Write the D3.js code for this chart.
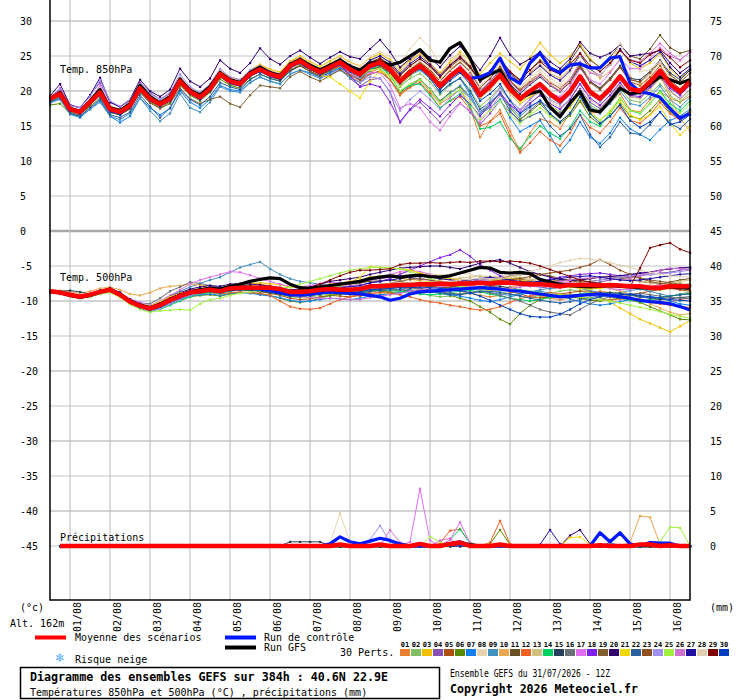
<!DOCTYPE html>
<html>
<head>
<meta charset="utf-8">
<script src="https://cdn.jsdelivr.net/npm/d3@7"></script>
<style>
body { margin: 0; background: #fff; }
text { font-family: "DejaVu Sans Mono", monospace; }
</style>
</head>
<body>
<svg id="chart" width="740" height="700"></svg>
<script>
// GEFS ensemble diagram, 31/07 12Z run, one value every 6h (65 steps, 384h)

var dateLabels = ["01/08","02/08","03/08","04/08","05/08","06/08","07/08","08/08",
                  "09/08","10/08","11/08","12/08","13/08","14/08","15/08","16/08"];
var dayIndex = [2,6,10,14,18,22,26,30,34,38,42,46,50,54,58,62];
var leftTicks = [30,25,20,15,10,5,0,-5,-10,-15,-20,-25,-30,-35,-40,-45];
var rightTicks = [75,70,65,60,55,50,45,40,35,30,25,20,15,10,5,0];
var memberNames = ["01","02","03","04","05","06","07","08","09","10","11","12","13","14","15",
                   "16","17","18","19","20","21","22","23","24","25","26","27","28","29","30"];
var memberColors = ["#e88030","#80c060","#f0c000","#8850b0","#b05010","#5a8a00","#1080f0","#e8d4b0",
                    "#4090c0","#e8a850","#6a5020","#f06020","#d0c080","#00d060","#24405a","#687078",
                    "#e070f0","#8020f0","#806030","#300070","#f0d800","#2860a0","#905020","#a090f0",
                    "#a0f040","#d070d0","#2010a0","#e0d0b0","#800000","#0040c0"];

// temperature 850 hPa (°C)
var mean850 = [18.9,19.6,17.4,17.0,18.4,19.8,17.4,17.0,17.9,20.4,18.9,18.1,18.9,
  21.4,19.9,19.1,20.3,22.4,21.4,21.0,22.4,23.1,22.4,22.0,23.6,24.3,
  23.4,22.7,23.4,24.1,23.1,22.4,23.6,24.1,23.1,21.4,22.7,23.6,22.4,
  20.7,22.1,23.2,21.7,19.4,20.7,22.3,20.3,18.9,20.0,21.0,19.6,18.6,
  19.9,22.1,19.9,18.9,20.3,22.1,20.3,20.0,21.3,22.9,21.0,19.9,21.3];
var ctrl850 = [18.9,19.6,17.3,17.0,18.3,19.6,17.2,16.9,17.8,20.3,18.8,18.0,18.8,
  21.3,19.8,19.0,20.2,22.3,21.3,20.9,22.3,23.0,22.3,21.9,23.5,24.2,
  23.3,22.6,23.3,24.0,23.0,22.3,23.5,24.0,23.0,21.3,22.6,23.5,22.3,
  20.6,22.0,23.0,21.8,22.0,22.6,24.7,21.9,21.1,24.0,25.4,23.3,22.6,
  23.7,23.9,23.3,23.3,24.7,24.9,21.1,19.9,19.6,19.1,17.5,16.1,16.8];
var gfs850 = [18.8,19.8,17.5,17.1,18.6,20.2,17.6,17.2,18.2,20.8,19.2,18.3,19.2,
  21.7,20.1,19.4,20.6,22.6,21.6,21.2,22.6,23.4,22.6,22.2,23.8,24.5,
  23.7,23.0,23.7,24.4,23.5,23.0,24.0,24.2,23.7,24.1,25.0,25.9,24.4,
  24.1,26.1,26.9,24.7,21.6,22.4,23.0,20.6,19.0,19.6,20.0,17.7,16.3,
  18.3,19.9,17.3,17.0,18.6,20.4,19.6,19.8,21.0,22.0,21.6,21.1,21.6];
var pert850 = [
 [19.2,20.1,17.4,16.8,18.7,20.3,17.6,17.0,17.6,20.0,18.7,18.1,19.2,21.8,20.4,19.4,20.3,22.1,20.9,20.7,22.4,23.5,22.9,22.3,23.6,23.9,22.8,21.9,22.9,23.5,22.1,21.2,22.6,23.3,21.6,19.4,20.5,21.6,19.9,18.2,19.1,20.2,17.7,13.4,15.7,17.3,14.3,11.4,14.0,16.0,15.6,14.6,16.9,18.6,16.9,16.9,18.3,19.6,17.3,17.0,18.8,19.9,19.0,18.4,19.3],
 [18.7,19.3,17.2,16.9,18.2,19.5,17.3,16.8,17.7,20.1,18.7,17.9,18.6,21.0,19.6,18.9,20.1,22.0,21.1,20.8,22.1,22.8,22.0,21.6,23.0,23.8,23.0,22.4,23.0,23.8,22.8,22.0,23.0,23.6,22.4,20.6,21.8,22.5,21.3,19.5,20.8,21.9,20.2,17.8,19.0,20.6,18.8,17.2,18.3,19.4,18.0,17.0,18.1,20.1,18.0,17.2,18.6,20.4,18.7,18.4,19.6,21.0,19.4,18.4,19.8],
 [19.0,19.8,17.6,17.3,18.6,20.1,17.7,17.2,18.1,20.7,19.1,18.4,19.2,21.8,20.3,19.6,20.8,22.9,22.0,21.6,23.0,23.8,23.1,22.7,24.3,25.0,24.2,23.5,24.3,25.0,24.1,23.6,24.7,25.3,24.5,23.2,24.4,25.3,24.0,22.6,24.2,25.6,24.3,22.4,24.0,25.4,24.2,23.1,24.8,26.9,25.2,24.0,25.0,26.7,24.6,23.3,24.4,26.0,24.0,23.2,24.0,25.4,23.2,21.8,23.0],
 [18.9,20.4,18.0,17.6,19.4,21.2,18.4,17.8,18.6,21.2,19.8,18.8,19.6,21.9,20.3,19.6,20.8,22.8,21.8,21.4,22.6,23.2,22.4,22.0,23.6,24.0,22.7,22.0,22.6,23.2,21.8,20.7,21.6,21.8,19.9,15.5,17.3,18.4,17.0,15.5,17.0,18.3,17.0,15.2,16.8,18.6,17.0,15.8,17.2,18.5,17.5,16.8,18.0,20.3,18.4,17.5,19.0,20.8,19.2,19.0,20.4,22.0,20.0,18.9,20.2],
 [18.8,19.6,17.5,17.2,18.5,19.9,17.6,17.2,18.0,20.4,18.8,18.0,18.7,21.2,19.7,18.9,20.1,22.3,21.3,20.9,22.2,22.9,22.3,21.9,23.4,24.0,23.1,22.3,23.0,23.6,22.6,22.0,23.4,24.0,23.0,21.5,23.0,24.0,23.0,21.4,23.0,24.2,22.8,20.5,21.8,23.5,21.5,20.2,21.4,22.6,21.2,20.4,21.6,23.8,21.4,20.3,21.6,23.4,21.3,20.8,22.0,23.6,21.6,20.3,21.6],
 [18.0,18.2,16.8,16.6,17.8,19.0,16.9,16.6,17.5,19.8,18.4,17.6,18.4,20.8,19.4,18.6,19.8,21.7,20.8,20.4,21.7,22.4,21.8,21.4,22.9,23.6,22.8,22.2,22.9,23.5,22.4,21.6,22.5,22.8,21.6,19.8,21.0,21.7,20.3,18.6,19.8,20.6,19.0,16.8,18.0,19.7,17.6,16.0,17.0,18.2,16.6,15.4,16.5,18.5,16.3,15.2,16.4,18.2,16.4,16.0,17.2,18.8,17.0,16.0,17.2],
 [18.5,19.0,16.7,16.2,17.4,18.6,16.4,15.5,16.4,19.0,17.6,16.6,17.5,20.0,18.4,17.6,18.8,20.8,20.2,20.0,21.2,22.0,21.4,21.0,22.4,23.0,22.6,22.0,22.7,23.3,22.4,21.8,23.0,23.5,22.6,20.8,22.2,23.0,21.8,19.8,21.0,21.8,19.6,16.8,17.6,18.8,16.2,14.2,15.0,15.8,13.6,11.3,13.0,15.6,13.4,12.5,14.0,16.2,14.6,13.8,13.0,14.5,15.8,16.4,17.4],
 [19.1,19.9,17.6,17.2,18.6,20.1,17.7,17.3,18.2,20.8,19.2,18.4,19.2,21.7,20.2,19.4,20.6,22.7,21.8,21.4,22.8,23.5,22.8,22.5,24.1,24.8,24.0,23.3,24.0,24.8,24.0,23.5,24.9,25.6,25.0,24.0,26.0,27.6,26.2,23.8,24.6,25.3,23.8,21.4,22.5,24.0,22.0,20.6,21.6,22.6,21.4,20.6,21.9,24.0,21.8,20.6,21.9,23.6,21.6,21.2,22.4,24.0,22.4,21.2,22.6],
 [18.3,18.8,16.7,16.4,17.4,18.4,16.4,15.9,16.8,19.0,17.2,15.7,16.8,19.6,17.6,17.0,18.4,20.6,20.0,19.8,21.2,22.0,21.4,21.0,22.4,23.0,22.4,21.8,22.4,23.0,21.9,21.2,22.4,22.8,21.6,19.6,20.8,21.6,20.3,18.5,19.7,20.8,19.2,16.9,18.2,19.8,17.8,16.4,17.6,18.7,17.4,16.5,17.9,20.0,17.8,16.8,18.2,20.0,18.2,17.9,19.1,20.7,18.8,17.7,19.1],
 [19.2,20.0,17.7,17.3,18.7,20.2,17.8,17.4,18.3,20.8,19.3,18.5,19.3,21.8,20.3,19.5,20.7,22.9,22.0,21.6,22.9,23.6,22.9,22.5,24.1,24.8,23.9,23.2,23.9,24.6,23.7,23.1,24.4,25.0,24.2,22.8,24.2,25.2,24.0,22.4,23.9,25.1,23.6,21.4,22.7,24.4,22.6,21.3,22.6,23.8,22.5,21.8,23.2,25.4,23.1,21.8,22.8,24.4,22.1,21.0,21.6,22.6,19.0,16.2,14.2],
 [18.9,19.8,17.6,17.2,18.5,20.0,17.6,17.2,18.1,20.6,19.0,18.3,19.1,21.6,20.1,19.3,20.5,22.6,21.6,21.2,22.6,23.4,22.7,22.3,23.9,24.6,23.7,23.0,23.7,24.4,23.5,22.9,24.1,24.7,23.8,22.3,23.6,24.6,23.5,22.0,23.4,24.6,23.3,21.3,22.7,24.4,22.6,21.5,23.0,24.4,23.4,22.8,24.2,26.4,24.4,23.4,24.8,26.6,25.0,24.6,26.0,28.0,26.2,25.4,25.8],
 [18.8,19.5,17.3,16.9,18.3,19.7,17.3,16.9,17.8,20.3,18.8,18.0,18.8,21.3,19.8,19.0,20.2,22.3,21.3,20.9,22.3,23.0,22.3,21.9,23.5,24.2,23.2,22.4,23.0,23.6,22.4,21.5,22.5,22.8,21.6,19.6,20.6,21.2,19.6,17.6,18.6,19.2,17.4,15.0,15.6,16.8,13.6,11.2,12.6,14.2,13.0,12.2,14.0,16.6,14.8,14.0,15.6,17.6,15.8,15.4,16.6,18.4,16.8,15.8,17.0],
 [19.0,19.7,17.5,17.1,18.5,19.9,17.5,17.1,18.0,20.5,19.0,18.2,19.0,21.5,20.0,19.2,20.4,22.5,21.5,21.1,22.5,23.2,22.5,22.1,23.7,24.4,23.5,22.8,23.5,24.2,23.2,22.5,23.7,24.2,23.2,21.6,22.9,23.8,22.6,20.8,22.0,23.0,21.4,19.0,20.2,21.7,19.6,18.1,19.1,20.1,18.6,17.6,18.8,21.0,18.8,17.8,19.2,21.0,19.2,18.9,20.2,21.8,19.9,18.8,20.2],
 [18.7,19.4,17.2,16.8,18.2,19.6,17.2,16.8,17.7,20.2,18.7,17.9,18.7,21.2,19.7,18.9,20.1,22.2,21.2,20.8,22.2,22.9,22.2,21.8,23.4,24.1,23.2,22.5,23.2,23.9,22.9,22.2,23.2,23.5,22.2,20.0,20.8,21.0,19.4,17.6,18.6,19.6,17.8,14.6,14.8,15.6,13.2,11.8,13.5,15.0,14.0,13.2,14.8,17.2,15.6,15.0,16.8,19.0,17.2,16.8,18.2,20.0,18.2,17.2,18.6],
 [18.8,19.5,17.3,16.9,18.3,19.6,17.2,16.8,17.7,20.2,18.7,17.9,18.7,21.2,19.7,18.9,20.1,22.2,21.2,20.8,22.2,22.9,22.2,21.8,23.4,24.2,23.3,22.6,23.3,24.0,23.0,22.3,23.5,24.0,23.0,21.3,22.6,23.6,22.5,20.9,22.3,23.5,22.1,19.9,21.3,23.0,21.0,19.6,20.9,22.0,20.8,19.9,21.3,23.6,21.4,20.4,21.8,23.6,21.8,21.6,22.8,24.4,22.6,21.6,23.0],
 [18.9,19.6,17.4,17.0,18.4,19.7,17.3,16.9,17.8,20.3,18.8,18.0,18.8,21.2,19.7,18.9,20.1,22.1,21.1,20.7,22.1,22.8,22.1,21.7,23.3,24.0,23.1,22.4,23.1,23.8,22.8,22.1,23.3,23.7,22.7,21.0,22.3,23.2,22.0,20.3,21.7,22.8,21.3,19.0,20.3,21.9,19.9,18.5,19.6,20.6,19.2,18.2,19.5,21.7,19.5,18.5,19.9,21.7,19.9,19.6,20.9,22.5,20.6,19.5,20.9],
 [18.8,20.4,17.6,17.2,18.6,20.8,17.6,17.1,18.2,21.0,19.2,18.2,19.1,21.6,19.8,19.0,20.2,22.3,21.3,20.9,22.3,23.0,22.3,21.9,23.5,24.2,23.3,22.6,23.2,23.8,22.6,21.7,22.6,22.6,20.8,17.6,18.2,17.6,15.6,14.4,16.4,18.2,17.2,15.6,17.4,19.4,18.0,17.2,18.8,20.4,19.6,19.2,20.8,23.2,21.6,21.0,22.6,24.6,23.2,23.2,24.6,26.2,25.0,24.4,25.6],
 [18.9,19.7,17.5,17.1,18.5,19.9,17.5,17.1,18.0,20.5,19.0,18.2,19.0,21.5,20.0,19.2,20.4,22.5,21.5,21.1,22.5,23.2,22.5,22.1,23.7,24.4,23.4,22.6,23.2,23.8,22.2,20.6,21.0,20.6,18.4,15.6,17.4,18.8,17.6,16.4,18.0,19.4,18.2,16.4,18.0,19.8,18.0,16.8,18.2,19.4,18.2,17.4,18.8,21.0,19.0,18.0,19.4,21.2,19.4,19.2,20.6,22.2,20.4,19.4,20.8],
 [18.6,19.2,17.0,16.6,18.0,19.4,17.0,16.6,17.4,19.8,18.3,17.5,18.2,20.4,18.9,18.2,18.8,19.2,18.2,17.7,19.4,20.8,20.6,20.4,22.0,22.8,22.0,21.4,22.2,23.0,22.2,21.6,22.9,23.5,22.6,21.0,22.4,23.3,22.2,20.5,21.9,23.0,21.5,19.2,20.5,22.1,20.1,18.7,19.8,20.8,19.4,18.4,19.7,21.9,19.7,18.7,20.1,21.9,20.1,19.8,21.1,22.7,20.8,19.7,21.1],
 [19.3,21.0,18.0,17.6,19.4,21.9,18.4,17.7,18.8,21.6,20.0,19.2,20.2,23.2,21.4,20.6,21.8,24.4,23.2,22.6,24.0,26.1,24.6,23.8,25.0,25.8,24.8,23.9,24.8,25.6,24.9,24.6,26.0,27.3,25.6,23.4,24.6,25.7,24.8,23.4,25.1,26.4,24.8,23.0,25.0,27.6,25.2,23.8,24.6,25.6,24.2,23.2,24.6,27.0,25.4,24.8,25.4,26.6,25.0,25.2,25.4,25.8,24.0,22.6,23.6],
 [18.9,19.6,17.4,17.0,18.4,19.8,17.4,17.0,17.9,20.4,18.9,18.1,18.9,21.4,19.9,19.1,20.3,22.4,21.4,21.0,22.4,23.1,22.4,22.0,23.6,24.3,23.2,22.2,22.0,21.0,20.0,19.0,21.4,22.8,22.2,20.8,22.2,23.2,22.0,20.4,21.8,22.9,21.4,19.1,20.4,22.0,20.0,18.4,19.2,19.8,18.0,16.6,17.6,19.6,17.0,15.8,17.0,18.6,16.6,15.9,16.6,17.8,15.4,13.7,15.0],
 [18.4,19.0,16.8,16.4,17.6,18.8,16.6,16.2,17.0,19.4,17.8,16.2,17.6,20.2,18.8,18.0,19.2,21.2,20.6,20.2,21.6,22.4,21.8,21.4,22.8,23.6,23.2,22.5,23.2,23.9,22.9,22.2,23.4,23.9,22.9,21.2,22.4,23.2,21.8,19.8,21.0,21.8,20.0,17.4,18.4,19.6,17.2,15.6,16.4,17.0,15.0,13.6,14.6,16.6,13.8,12.0,13.4,15.6,14.0,13.8,15.2,17.0,15.4,14.6,16.0],
 [19.0,19.8,17.5,17.1,18.5,19.9,17.5,17.1,18.0,20.5,19.0,18.2,19.0,21.4,19.9,19.1,20.3,22.3,21.3,20.9,22.2,22.8,22.1,21.6,23.0,23.6,22.8,22.2,23.0,23.8,22.9,22.3,23.6,24.2,23.3,21.7,23.1,24.1,23.0,21.4,22.9,24.1,22.7,20.4,21.8,23.4,21.4,20.0,21.2,22.3,20.9,20.0,21.2,23.4,21.2,20.2,21.6,23.4,21.6,21.3,22.6,24.2,22.3,21.2,22.6],
 [19.1,20.2,17.9,17.6,19.2,21.6,18.6,17.8,18.8,21.0,19.6,18.8,19.8,22.4,20.6,19.8,21.0,23.2,22.0,21.6,23.0,23.6,22.8,22.4,24.0,24.6,23.5,22.8,23.4,24.0,22.6,21.2,22.0,21.8,19.8,17.2,18.8,20.0,18.8,17.4,19.0,20.2,19.0,17.0,18.6,20.4,18.6,17.4,18.8,20.0,18.8,18.0,19.4,21.6,19.6,18.6,20.0,21.8,20.0,19.8,21.2,22.8,21.0,20.0,21.4],
 [18.9,19.6,17.4,17.0,18.4,19.8,17.4,17.0,17.9,20.4,18.9,18.1,18.9,21.4,19.9,19.1,20.3,22.4,21.4,21.0,22.4,23.1,22.4,22.0,23.6,24.3,23.4,22.7,23.3,23.9,22.8,22.0,23.0,23.2,22.0,20.0,21.0,21.6,20.2,18.4,19.4,20.2,18.4,16.0,17.2,18.6,16.6,15.4,16.6,17.6,16.4,15.6,16.8,19.0,16.8,15.8,17.2,19.0,17.2,16.9,18.2,19.8,17.9,16.8,18.2],
 [18.9,19.6,17.4,17.0,18.4,19.8,17.4,17.0,17.9,20.4,18.9,18.1,18.9,21.4,19.9,19.1,20.3,22.4,21.4,21.0,22.4,23.1,22.4,22.0,23.6,24.3,23.4,22.7,23.4,24.1,23.1,22.4,23.6,24.1,23.1,21.4,22.7,23.6,22.4,20.9,22.4,23.6,22.2,20.0,21.4,23.1,21.2,19.9,21.1,22.2,20.9,20.0,21.6,24.2,22.6,22.2,23.8,25.8,24.4,24.2,25.4,26.8,25.4,24.4,25.6],
 [19.0,19.7,17.5,17.1,18.5,20.0,17.6,17.2,18.1,20.6,19.1,18.3,19.1,21.6,20.1,19.3,20.5,22.6,21.6,21.2,22.6,23.4,22.7,22.3,23.9,24.6,23.7,23.0,23.8,24.6,23.7,23.1,24.4,25.0,24.1,22.5,23.9,24.9,23.8,22.2,23.7,24.9,23.5,21.4,22.8,24.5,22.5,21.1,22.4,23.6,22.3,21.5,22.9,25.2,23.1,22.2,23.8,26.0,24.2,23.6,24.4,25.6,23.4,22.0,23.2],
 [18.8,19.5,17.4,17.1,18.5,19.9,17.5,17.1,18.0,20.5,19.0,18.1,18.9,21.4,19.9,19.1,20.3,22.4,21.4,21.0,22.4,23.1,22.4,22.0,23.6,24.3,23.4,22.7,23.4,24.1,23.2,22.6,23.8,24.4,23.5,21.9,23.3,24.3,23.2,21.6,23.1,24.3,22.9,20.7,22.1,23.8,21.9,20.6,21.9,23.1,21.8,21.0,22.6,25.0,23.0,22.2,23.8,26.8,24.4,22.8,23.0,24.2,22.0,20.8,22.0],
 [19.1,19.9,17.6,17.2,18.6,20.1,17.7,17.3,18.2,20.7,19.2,18.4,19.2,21.7,20.2,19.4,20.6,22.7,21.7,21.3,22.7,23.4,22.7,22.3,23.9,24.6,23.7,23.0,23.7,24.4,23.4,22.8,24.0,24.6,23.7,22.2,23.6,24.6,23.6,22.0,23.6,24.8,23.5,21.5,22.9,24.6,22.8,21.6,23.0,24.2,23.0,22.4,23.8,25.4,23.6,22.8,24.0,25.8,24.4,24.0,25.2,25.9,24.8,23.4,24.4],
 [18.8,19.4,17.2,16.8,18.2,19.6,17.1,16.6,17.6,20.1,18.6,17.8,18.6,21.1,19.6,18.8,20.0,22.1,21.1,20.7,22.1,22.8,22.1,21.7,23.3,24.0,23.1,22.4,23.1,23.8,22.8,22.1,23.3,23.8,22.8,21.1,22.4,23.3,22.1,20.2,21.5,22.6,21.0,18.6,19.6,21.0,18.6,16.8,17.8,18.6,16.8,15.6,16.8,19.2,16.8,15.4,16.4,18.0,15.8,14.8,15.6,17.0,15.2,15.6,16.6]
];

// temperature 500 hPa (°C)
var mean500 = [-8.6,-8.8,-9.1,-9.4,-9.1,-8.7,-8.4,-9.1,-10.1,-10.7,-11.1,-10.6,-9.9,
  -9.3,-8.8,-8.6,-8.4,-8.6,-8.2,-8.1,-8.1,-8.1,-8.1,-8.3,-8.7,-8.7,
  -8.6,-8.4,-8.3,-8.4,-8.4,-8.3,-7.9,-7.9,-7.8,-7.7,-7.7,-7.6,-7.6,
  -7.5,-7.6,-7.5,-7.5,-7.4,-7.5,-7.4,-7.4,-7.5,-7.6,-7.6,-7.7,-7.9,
  -7.7,-7.7,-7.7,-7.8,-7.7,-7.8,-7.9,-7.9,-8.1,-8.1,-7.9,-7.9,-7.9];
var ctrl500 = [-8.6,-8.8,-9.1,-9.4,-9.1,-8.7,-8.4,-9.1,-10.1,-10.7,-11.1,-10.6,-9.9,
  -9.3,-8.8,-8.6,-8.4,-8.6,-8.3,-8.2,-8.2,-8.3,-8.5,-8.8,-9.1,-9.1,
  -9.0,-8.8,-8.7,-8.8,-8.9,-9.0,-9.2,-9.4,-9.9,-9.6,-9.0,-8.7,-8.6,
  -8.5,-8.4,-8.3,-8.2,-8.1,-8.2,-8.3,-8.5,-8.6,-8.8,-9.0,-9.2,-9.4,
  -9.3,-9.2,-9.1,-9.0,-9.2,-9.4,-9.6,-9.9,-10.1,-10.2,-10.4,-10.8,-11.3];
var gfs500 = [-8.6,-8.8,-9.2,-9.5,-9.2,-8.7,-8.3,-9.0,-10.0,-10.6,-11.0,-10.5,-9.8,
  -9.2,-8.7,-8.4,-8.2,-8.3,-7.9,-7.6,-7.2,-6.9,-6.7,-6.8,-7.6,-8.1,
  -8.2,-8.0,-7.8,-7.6,-7.4,-7.2,-6.8,-6.6,-6.4,-6.6,-6.4,-6.3,-6.5,
  -6.6,-6.4,-6.0,-5.6,-5.2,-5.3,-5.9,-6.0,-5.9,-6.1,-6.9,-7.3,-7.6,
  -7.8,-7.9,-8.0,-7.9,-7.8,-7.9,-8.0,-8.1,-8.2,-8.1,-8.0,-8.1,-8.2];
var pert500 = [
 [-8.5,-8.7,-9.0,-9.2,-8.9,-8.5,-8.3,-8.9,-9.8,-10.4,-10.9,-10.4,-9.6,-9.0,-8.6,-8.4,-8.2,-8.3,-7.9,-7.6,-7.4,-7.6,-7.8,-8.2,-8.6,-8.8,-8.8,-8.7,-8.6,-8.9,-9.1,-9.3,-9.0,-8.8,-8.6,-8.4,-8.2,-8.0,-7.9,-7.8,-8.2,-8.6,-8.9,-9.2,-9.4,-9.2,-8.8,-8.6,-8.9,-9.3,-9.6,-9.8,-9.6,-9.2,-8.9,-8.6,-8.8,-9.2,-9.6,-9.9,-10.2,-10.4,-10.1,-9.8,-9.6],
 [-8.7,-8.9,-9.2,-9.5,-9.3,-8.9,-8.6,-9.2,-10.2,-10.9,-11.3,-10.9,-10.2,-9.6,-9.1,-8.9,-8.7,-8.8,-8.5,-8.4,-8.5,-8.7,-8.9,-9.1,-9.4,-9.5,-9.4,-9.2,-9.0,-9.1,-9.0,-8.8,-8.5,-8.3,-8.2,-8.4,-8.6,-8.9,-9.2,-9.4,-9.3,-9.1,-8.8,-8.6,-8.5,-8.7,-9.0,-9.3,-9.5,-9.2,-8.9,-8.6,-8.4,-8.6,-8.9,-9.1,-9.4,-9.7,-9.9,-10.2,-10.0,-9.6,-9.3,-9.0,-8.7],
 [-8.6,-8.8,-9.1,-9.3,-9.0,-8.6,-8.3,-9.0,-9.9,-10.5,-10.8,-10.3,-9.6,-9.0,-8.5,-8.2,-8.0,-8.1,-7.8,-7.6,-7.5,-7.4,-7.5,-7.7,-8.0,-8.1,-8.0,-7.8,-7.6,-7.4,-7.2,-7.0,-6.6,-6.4,-6.6,-6.8,-6.9,-7.1,-7.3,-7.0,-6.8,-6.9,-7.2,-7.4,-7.3,-7.0,-6.8,-6.9,-7.3,-7.6,-7.4,-7.2,-7.6,-8.0,-8.6,-9.4,-10.2,-11.0,-11.8,-12.6,-13.2,-13.8,-14.4,-13.6,-12.8],
 [-8.6,-8.9,-9.2,-9.5,-9.2,-8.8,-8.5,-9.2,-10.3,-11.0,-11.5,-11.0,-10.3,-9.7,-9.1,-8.9,-8.7,-8.9,-8.6,-8.4,-8.3,-8.2,-8.1,-8.4,-8.8,-8.9,-8.7,-8.4,-8.1,-8.0,-7.8,-7.5,-7.0,-6.8,-6.6,-6.5,-6.7,-6.9,-7.0,-7.2,-7.3,-7.4,-7.2,-7.0,-6.9,-7.1,-7.3,-7.6,-7.8,-8.0,-8.2,-8.1,-7.9,-7.7,-7.5,-7.3,-7.0,-6.8,-6.6,-6.4,-6.2,-6.0,-5.9,-5.6,-5.4],
 [-8.6,-8.8,-9.2,-9.4,-9.2,-8.8,-8.5,-9.2,-10.1,-10.8,-11.2,-10.6,-9.8,-9.1,-8.6,-8.5,-8.4,-8.7,-8.4,-8.3,-8.4,-8.6,-8.9,-9.2,-9.6,-9.8,-9.7,-9.4,-9.2,-9.3,-9.4,-9.2,-8.7,-8.4,-8.2,-8.0,-7.8,-7.8,-7.9,-8.0,-8.2,-8.0,-7.8,-7.6,-7.8,-8.2,-8.6,-9.0,-9.4,-9.6,-9.3,-9.0,-8.8,-8.6,-8.6,-8.9,-9.2,-9.4,-9.2,-8.9,-8.6,-8.4,-8.2,-8.4,-8.6],
 [-8.7,-8.9,-9.2,-9.5,-9.3,-8.9,-8.6,-9.3,-10.2,-10.9,-11.3,-11.0,-10.4,-9.9,-9.4,-9.2,-9.1,-9.3,-9.0,-8.8,-8.8,-9.0,-9.2,-9.6,-10.0,-10.2,-10.0,-9.6,-9.2,-9.0,-8.8,-8.6,-8.4,-8.6,-8.8,-8.7,-8.5,-8.4,-8.6,-8.9,-9.2,-9.6,-10.0,-10.8,-11.6,-12.6,-13.3,-11.8,-10.6,-9.8,-9.4,-9.2,-9.4,-9.6,-9.9,-10.0,-9.8,-9.6,-9.8,-10.2,-10.8,-11.4,-12.0,-12.6,-12.7],
 [-8.8,-9.0,-9.3,-9.6,-9.4,-9.0,-8.7,-9.3,-10.3,-11.0,-11.4,-11.0,-10.4,-9.8,-9.3,-9.1,-9.0,-9.2,-8.9,-8.8,-8.9,-9.1,-9.3,-9.5,-9.9,-10.1,-10.0,-9.8,-9.6,-9.7,-9.8,-9.6,-9.3,-9.1,-9.0,-8.8,-8.6,-8.5,-8.7,-8.9,-9.1,-9.3,-9.6,-9.9,-10.1,-9.8,-9.4,-9.1,-8.8,-8.6,-8.9,-9.3,-9.7,-10.1,-10.4,-10.6,-10.4,-10.1,-9.8,-9.5,-9.3,-9.6,-10.0,-10.4,-10.6],
 [-8.5,-8.7,-9.0,-9.3,-9.0,-8.6,-8.3,-8.9,-9.9,-10.5,-10.9,-10.4,-9.7,-9.1,-8.6,-8.3,-8.1,-8.2,-7.8,-7.7,-7.8,-7.9,-8.0,-8.1,-8.4,-8.4,-8.3,-8.1,-8.0,-7.9,-7.7,-7.5,-7.0,-6.6,-6.3,-6.0,-5.8,-5.9,-6.1,-6.3,-6.2,-6.0,-6.2,-6.5,-6.8,-6.6,-6.4,-6.6,-6.9,-7.2,-7.4,-7.6,-7.5,-7.3,-7.5,-7.8,-8.1,-8.4,-8.2,-7.9,-7.6,-7.4,-7.2,-7.4,-7.5],
 [-8.5,-8.7,-9.0,-9.3,-9.0,-8.6,-8.3,-9.0,-10.0,-10.5,-10.8,-10.2,-9.3,-8.6,-8.0,-7.5,-7.0,-6.6,-5.9,-5.2,-4.8,-4.4,-5.4,-6.2,-6.8,-7.2,-7.4,-7.6,-7.8,-8.0,-8.3,-8.4,-8.2,-8.0,-7.9,-8.1,-8.4,-8.6,-8.5,-8.3,-8.1,-8.0,-8.2,-8.5,-8.8,-9.0,-9.2,-9.0,-8.7,-8.4,-8.2,-8.0,-7.9,-8.2,-8.5,-8.8,-9.0,-8.8,-8.5,-8.3,-8.6,-9.0,-9.3,-9.1,-8.9],
 [-8.4,-8.5,-8.7,-8.9,-8.6,-8.2,-8.0,-8.4,-9.0,-9.2,-8.8,-8.2,-7.9,-7.8,-7.6,-7.7,-7.9,-8.2,-8.0,-7.9,-7.8,-7.9,-8.1,-8.4,-8.8,-9.0,-9.1,-8.9,-8.7,-8.6,-8.5,-8.6,-8.4,-8.1,-7.9,-7.6,-7.4,-7.3,-7.4,-7.6,-7.8,-7.9,-8.1,-8.3,-8.4,-8.2,-8.0,-7.8,-7.6,-7.4,-7.2,-7.0,-6.9,-7.1,-7.4,-7.8,-8.2,-8.6,-9.0,-9.6,-10.4,-11.0,-11.6,-12.0,-11.8],
 [-8.6,-8.8,-9.1,-9.4,-9.1,-8.7,-8.4,-9.0,-10.0,-10.6,-10.9,-10.5,-9.8,-9.2,-8.7,-8.4,-8.1,-8.2,-7.9,-7.8,-7.9,-8.0,-8.2,-8.4,-8.7,-8.6,-8.4,-8.1,-7.8,-7.7,-7.5,-7.4,-7.2,-7.1,-7.0,-7.2,-7.5,-7.7,-7.9,-8.1,-8.0,-7.8,-7.6,-7.4,-7.2,-7.0,-6.8,-6.9,-7.1,-7.3,-7.2,-7.1,-7.0,-6.9,-6.8,-6.6,-6.5,-6.7,-6.9,-7.2,-7.4,-7.6,-7.3,-7.0,-6.8],
 [-8.7,-8.9,-9.2,-9.5,-9.2,-8.8,-8.6,-9.3,-10.4,-11.0,-11.3,-10.6,-9.9,-9.4,-9.0,-8.9,-8.8,-9.0,-8.8,-8.7,-8.8,-8.9,-9.2,-10.0,-10.8,-11.1,-11.2,-11.0,-10.4,-9.8,-9.4,-9.1,-8.9,-8.8,-8.9,-9.1,-9.4,-9.8,-10.1,-10.3,-10.6,-10.8,-11.1,-11.3,-11.2,-10.8,-10.2,-9.7,-9.3,-9.0,-8.8,-9.0,-9.2,-9.4,-9.6,-9.8,-9.9,-9.7,-9.5,-9.8,-10.1,-10.4,-10.6,-10.8,-10.9],
 [-8.6,-8.8,-9.1,-9.4,-9.1,-8.7,-8.4,-9.1,-10.1,-10.7,-11.0,-10.5,-9.8,-9.2,-8.7,-8.5,-8.3,-8.5,-8.1,-8.0,-8.0,-8.0,-8.0,-8.2,-8.6,-8.6,-8.5,-8.3,-8.2,-8.3,-8.3,-8.2,-7.8,-7.8,-7.7,-7.6,-7.6,-7.5,-7.5,-6.8,-6.9,-6.7,-6.6,-6.4,-6.5,-6.4,-6.5,-6.7,-6.9,-7.0,-7.2,-7.4,-7.2,-7.0,-6.8,-6.6,-6.4,-6.6,-6.9,-7.1,-7.4,-7.6,-7.4,-7.2,-7.0],
 [-8.7,-8.9,-9.2,-9.5,-9.2,-8.8,-8.5,-9.2,-10.2,-10.9,-11.4,-11.2,-10.6,-10.0,-9.4,-9.0,-8.8,-8.9,-8.6,-8.4,-8.4,-8.5,-8.7,-9.0,-9.3,-9.4,-9.2,-9.0,-8.8,-8.9,-9.0,-8.9,-8.6,-8.5,-8.5,-8.6,-8.8,-9.0,-9.1,-9.0,-8.8,-8.6,-8.5,-8.7,-9.0,-9.3,-9.6,-9.8,-10.0,-9.8,-9.5,-9.3,-9.2,-9.0,-8.9,-9.0,-9.2,-9.5,-9.8,-10.0,-9.8,-9.5,-9.3,-9.1,-9.0],
 [-8.5,-8.6,-8.5,-8.7,-9.0,-8.8,-8.5,-9.0,-9.9,-10.5,-10.9,-10.5,-9.9,-9.4,-9.0,-8.8,-8.6,-8.8,-8.5,-8.4,-8.5,-8.6,-8.8,-9.0,-9.3,-9.4,-9.2,-9.0,-8.7,-8.5,-8.3,-8.0,-7.7,-7.6,-7.5,-7.6,-7.9,-8.2,-8.4,-8.6,-8.5,-8.4,-8.2,-8.0,-7.8,-7.9,-8.1,-8.4,-8.7,-9.0,-9.2,-9.4,-9.5,-9.3,-9.1,-8.9,-8.8,-8.9,-9.1,-9.3,-9.6,-9.8,-9.7,-9.5,-9.4],
 [-8.5,-8.7,-9.0,-9.3,-9.0,-8.6,-8.3,-8.9,-9.8,-10.3,-10.4,-9.6,-8.6,-8.0,-7.3,-7.5,-7.8,-8.1,-7.9,-7.8,-7.9,-8.1,-8.3,-8.6,-8.9,-9.0,-8.9,-8.7,-8.5,-8.5,-8.6,-8.6,-8.3,-8.2,-8.1,-8.0,-8.1,-8.3,-8.5,-8.7,-8.9,-9.0,-8.8,-8.6,-8.8,-9.2,-9.6,-10.0,-10.6,-11.2,-11.6,-11.8,-12.0,-11.2,-10.4,-9.8,-9.4,-9.2,-9.0,-8.9,-9.1,-9.3,-9.5,-9.6,-9.7],
 [-8.6,-8.8,-9.0,-9.2,-8.9,-8.5,-8.2,-8.8,-9.7,-10.2,-10.6,-10.0,-9.2,-8.4,-7.6,-7.0,-6.6,-6.2,-5.8,-5.9,-6.3,-6.8,-7.2,-7.6,-7.9,-8.0,-7.8,-7.5,-7.3,-7.4,-7.5,-7.3,-6.9,-6.6,-6.2,-5.8,-5.6,-5.8,-6.2,-6.6,-6.9,-7.1,-7.3,-7.4,-7.2,-7.0,-6.9,-7.0,-7.2,-7.4,-7.3,-7.2,-7.4,-7.6,-7.8,-8.0,-8.2,-8.4,-8.3,-8.1,-7.9,-7.7,-7.8,-7.9,-8.0],
 [-8.6,-8.8,-9.1,-9.4,-9.1,-8.7,-8.4,-9.1,-10.0,-10.6,-10.9,-10.3,-9.5,-8.9,-8.5,-8.3,-8.2,-8.4,-8.1,-8.0,-8.1,-8.2,-8.4,-8.6,-8.9,-8.9,-8.7,-8.4,-8.2,-8.1,-7.9,-7.8,-7.4,-7.2,-6.8,-6.2,-5.6,-5.0,-4.4,-3.8,-3.4,-2.7,-3.6,-4.8,-5.6,-6.4,-7.0,-7.3,-7.4,-7.2,-6.9,-6.6,-6.4,-6.2,-6.1,-6.0,-6.2,-6.4,-6.3,-6.1,-5.9,-5.6,-5.4,-5.3,-5.2],
 [-8.6,-8.8,-9.1,-9.4,-9.1,-8.7,-8.4,-9.1,-10.1,-10.7,-11.1,-10.6,-9.9,-9.3,-8.8,-8.6,-8.4,-8.6,-8.2,-8.1,-8.1,-8.2,-8.4,-8.6,-9.0,-9.2,-9.2,-9.0,-8.8,-8.7,-8.6,-8.4,-8.0,-7.8,-7.5,-7.2,-6.9,-6.8,-7.0,-7.3,-7.6,-7.8,-7.7,-7.4,-7.1,-6.8,-6.5,-6.2,-6.0,-6.2,-6.4,-6.8,-7.1,-7.3,-7.2,-7.0,-6.8,-6.6,-6.5,-6.7,-7.0,-7.2,-7.4,-7.6,-7.7],
 [-8.6,-8.8,-9.1,-9.4,-9.1,-8.6,-8.2,-8.8,-9.8,-10.5,-10.8,-10.2,-9.4,-8.8,-8.3,-8.0,-7.8,-7.9,-7.6,-7.5,-7.6,-7.7,-7.9,-8.1,-8.4,-8.3,-8.0,-7.6,-7.2,-7.0,-6.8,-6.6,-6.2,-5.9,-5.6,-5.3,-5.2,-5.1,-5.0,-5.0,-5.2,-5.4,-5.0,-4.6,-4.3,-4.1,-4.6,-5.2,-5.8,-6.2,-6.6,-6.9,-7.1,-7.0,-6.8,-6.6,-6.5,-6.4,-6.2,-6.0,-5.9,-5.6,-5.4,-5.3,-5.2],
 [-8.5,-8.7,-9.0,-9.3,-9.0,-8.6,-8.3,-9.0,-9.9,-10.4,-10.7,-10.1,-9.4,-8.9,-8.6,-8.5,-8.4,-8.5,-8.3,-8.2,-8.1,-8.1,-8.2,-8.3,-8.5,-8.5,-8.4,-8.2,-8.0,-7.8,-7.4,-6.6,-5.1,-5.2,-5.3,-5.4,-5.6,-6.0,-6.4,-6.7,-6.8,-7.0,-7.2,-7.3,-7.1,-6.9,-6.8,-7.0,-7.2,-7.4,-7.6,-7.8,-8.0,-8.2,-8.3,-8.2,-8.0,-7.8,-7.7,-7.9,-8.1,-8.3,-8.2,-8.0,-7.9],
 [-8.7,-8.9,-9.2,-9.5,-9.2,-8.8,-8.5,-9.2,-10.2,-10.8,-11.2,-10.7,-10.0,-9.4,-8.9,-8.7,-8.5,-8.7,-8.4,-8.3,-8.3,-8.4,-8.6,-8.8,-9.1,-9.2,-9.1,-8.9,-8.8,-8.9,-9.0,-8.9,-8.6,-8.5,-8.4,-8.4,-8.5,-8.6,-8.7,-8.8,-9.0,-9.1,-8.9,-8.7,-8.6,-8.8,-9.0,-9.3,-9.6,-9.9,-10.1,-10.3,-10.1,-9.8,-9.5,-9.3,-9.1,-9.0,-9.2,-9.4,-9.6,-9.5,-9.3,-9.1,-9.0],
 [-8.6,-8.8,-9.1,-9.4,-9.1,-8.7,-8.4,-9.1,-10.0,-10.6,-11.0,-10.5,-9.8,-9.2,-8.7,-8.5,-8.3,-8.5,-8.1,-8.0,-8.0,-8.1,-8.3,-8.5,-8.9,-9.0,-8.9,-8.7,-8.5,-8.5,-8.4,-8.2,-7.8,-7.7,-7.6,-7.5,-7.5,-7.4,-7.4,-7.3,-7.4,-7.3,-7.3,-7.2,-7.2,-7.1,-7.0,-6.8,-6.5,-6.2,-6.0,-5.8,-5.6,-5.2,-4.8,-4.1,-4.8,-5.6,-6.2,-6.8,-7.2,-7.5,-7.6,-7.7,-7.8],
 [-8.7,-8.9,-9.2,-9.5,-9.2,-8.8,-8.5,-9.2,-10.3,-11.0,-11.5,-11.1,-10.4,-9.8,-9.2,-8.9,-8.6,-8.7,-8.3,-8.2,-8.2,-8.3,-8.5,-8.8,-9.1,-9.2,-9.1,-8.9,-8.7,-8.7,-8.6,-8.4,-8.1,-8.0,-7.9,-7.8,-7.8,-7.7,-7.6,-7.4,-7.2,-7.0,-6.9,-7.0,-7.2,-7.4,-7.6,-7.8,-7.9,-8.0,-7.9,-8.0,-7.8,-7.6,-7.3,-7.0,-6.8,-6.6,-6.4,-6.3,-6.2,-6.1,-6.0,-5.8,-5.6],
 [-8.7,-8.9,-9.3,-9.6,-9.4,-9.0,-8.8,-9.5,-10.5,-11.2,-11.6,-11.4,-11.3,-11.2,-11.3,-10.4,-9.8,-9.6,-9.2,-8.9,-8.7,-8.5,-8.3,-8.2,-8.0,-7.6,-7.2,-6.8,-6.4,-6.0,-5.6,-5.4,-5.2,-5.2,-5.3,-5.4,-5.8,-6.3,-6.8,-7.2,-7.6,-7.9,-8.1,-8.3,-8.4,-8.3,-8.2,-8.4,-8.6,-8.8,-9.0,-9.1,-9.2,-9.4,-9.6,-9.8,-10.0,-10.3,-10.6,-10.9,-11.2,-11.5,-11.9,-12.2,-12.4],
 [-8.6,-8.8,-9.1,-9.4,-9.1,-8.7,-8.4,-9.1,-10.1,-10.7,-11.1,-10.6,-9.9,-9.3,-8.8,-8.6,-8.4,-8.6,-8.2,-8.1,-8.2,-8.3,-8.5,-8.8,-9.2,-9.4,-9.5,-9.6,-9.6,-9.7,-9.8,-9.8,-9.5,-9.3,-9.1,-8.9,-8.6,-8.4,-8.2,-8.0,-7.8,-7.7,-7.8,-8.0,-8.2,-8.3,-8.2,-8.0,-7.8,-7.6,-7.4,-7.2,-7.0,-6.8,-6.7,-6.6,-6.8,-7.0,-6.8,-6.4,-6.0,-5.6,-5.3,-5.4,-5.6],
 [-8.5,-8.7,-9.0,-9.3,-9.0,-8.5,-8.2,-8.8,-9.8,-10.4,-10.8,-10.3,-9.6,-9.0,-8.6,-8.3,-8.0,-8.2,-7.9,-7.8,-7.9,-8.0,-8.2,-8.4,-8.8,-8.9,-8.8,-8.5,-8.2,-8.1,-8.0,-7.8,-7.4,-7.2,-7.0,-6.8,-6.6,-6.5,-6.6,-6.8,-7.0,-7.1,-7.0,-6.8,-6.6,-6.8,-7.0,-7.2,-7.3,-7.2,-7.0,-6.8,-6.6,-6.5,-6.4,-6.6,-6.8,-7.0,-7.1,-7.0,-6.8,-6.6,-6.4,-6.2,-6.1],
 [-8.5,-8.7,-9.0,-9.3,-9.0,-8.6,-8.3,-9.0,-10.0,-10.6,-11.0,-10.5,-9.8,-9.2,-8.7,-8.5,-8.3,-8.5,-8.1,-8.0,-8.0,-8.0,-8.1,-8.3,-8.6,-8.6,-8.5,-8.3,-8.2,-8.2,-8.2,-8.1,-7.7,-7.6,-7.5,-7.4,-7.4,-7.3,-7.3,-7.2,-7.2,-7.0,-6.9,-6.8,-6.9,-6.8,-6.6,-6.2,-5.8,-5.4,-5.0,-4.5,-4.2,-3.9,-4.0,-4.2,-4.5,-4.9,-5.2,-5.6,-5.9,-6.2,-6.4,-6.5,-6.6],
 [-8.6,-8.8,-9.1,-9.4,-9.1,-8.7,-8.4,-9.1,-10.0,-10.6,-10.9,-10.4,-9.6,-9.0,-8.6,-8.4,-8.2,-8.4,-8.0,-7.9,-7.9,-8.0,-8.1,-8.3,-8.6,-8.4,-8.1,-7.6,-7.0,-6.4,-5.9,-5.6,-5.6,-5.5,-5.4,-4.8,-4.6,-4.6,-4.5,-4.6,-4.5,-4.4,-4.5,-4.3,-4.3,-4.4,-4.3,-4.4,-4.6,-5.0,-5.5,-6.0,-6.5,-7.0,-7.3,-7.5,-7.6,-7.8,-8.0,-5.3,-2.4,-2.0,-1.7,-2.6,-3.1],
 [-8.7,-8.9,-9.2,-9.5,-9.2,-8.8,-8.5,-9.2,-10.2,-10.9,-11.3,-10.8,-10.1,-9.5,-9.0,-8.8,-8.6,-8.8,-8.4,-8.3,-8.3,-8.4,-8.6,-8.9,-9.2,-9.3,-9.2,-9.0,-8.8,-8.8,-8.8,-8.7,-8.4,-8.3,-8.2,-8.1,-8.1,-8.0,-8.1,-8.2,-8.4,-8.5,-8.8,-9.3,-9.9,-10.6,-11.2,-11.8,-12.2,-12.3,-12.3,-11.9,-11.2,-10.4,-9.8,-9.4,-9.2,-9.1,-9.0,-9.2,-9.4,-9.6,-9.8,-9.9,-10.0]
];

// precipitation (mm / 6h)
var meanRain = [0,0,0,0,0,0,0,0,0,0, 0,0,0,0,0,0,0,0,0,0, 0,0,0,0,0,0,0,0,0,0.2,
  0,0,0,0.2,0,0,0,0.3,0,0, 0.3,0.5,0,0,0,0.2,0,0,0,0, 0,0,0,0,0,0.1,0,0,0,0.2, 0.2,0,0.1,0,0];
var ctrlRain = [0,0,0,0,0,0,0,0,0,0, 0,0,0,0,0,0,0,0,0,0, 0,0,0,0,0,0,0,0,0.3,1.3,
  0.6,0.3,0.7,1.1,0.8,0.3,0,0,0,0, 0.3,0.6,0,0,0,0,0,0,0,0, 0,0,0,0,0,1.9,0.6,1.9,0.3,0, 0.5,0.4,0.4,0,0];
var gfsRain = [0,0,0,0,0,0,0,0,0,0, 0,0,0,0,0,0,0,0,0,0, 0,0,0,0,0,0,0,0,0,0,
  0,0,0,0,0,0,0,0,0,0, 0.3,0.5,0.2,0,0,0,0,0,0,0, 0,0,0,0,0,0,0,0,0,0, 0,0,0,0,0];
var pertRain = [
 [0,0,0,0,0,0,0,0,0,0, 0,0,0,0,0,0,0,0,0,0, 0,0,0,0,0,0,0,0,0,0, 0,0,0,0,0,0,0,0,0,0, 0,0,0,0,0,0,0,0,0,0, 0,0,0,0,0,0,0,0,0,0.3, 0.4,0,0,0,0],
 [0,0,0,0,0,0,0,0,0,0, 0,0,0,0,0,0,0,0,0,0, 0,0,0,0,0,0,0,0,0,0, 0,0,0,0,0,0,0,0,0,0, 0,0,0,0,0,0,0,0,0,0, 0,0,0,0,0,0,0,0,0,0, 0.6,0.5,0,0,0],
 [0,0,0,0,0,0,0,0,0,0, 0,0,0,0,0,0,0,0,0,0, 0,0,0,0,0,0,0,0,0,0, 0,0,0,0,0,0,0,0,0,0, 0,0,0,0,0,0,0,0,0,0, 0,0,0,0,0,0,0,0,0,0, 0,0,0,0,0],
 [0,0,0,0,0,0,0,0,0,0, 0,0,0,0,0,0,0,0,0,0, 0,0,0,0,0,0,0,0,0,0, 0,0,0,0,0,0,0,0,0,0, 0,0,0,0,0,0,0,0,0,0, 0,0,0,0,0,0,0,0,0,0, 0,0,0,0,0],
 [0,0,0,0,0,0,0,0,0,0, 0,0,0,0,0,0,0,0,0,0, 0,0,0,0,0,0,0,0,0,0, 0,0,0,0,0,0,0,0,0,0, 0,0,0,0,0,0,0,0,0,0, 0,0,0,0,0,0,0,0,0,0, 0,0,0,0,0],
 [0,0,0,0,0,0,0,0,0,0, 0,0,0,0,0,0,0,0,0,0, 0,0,0,0,0,0,0,0,0,0, 0,0,0,0,0,0,0,0,0,0, 0,0,0,0,0.3,2.3,0.2,0,0,0, 0,0,0,0,0,0,0,0,0,0, 0,0,0,0,0],
 [0,0,0,0,0,0,0,0,0,0, 0,0,0,0,0,0,0,0,0,0, 0,0,0,0,0,0,0,0,0,0, 0,0,0,0,0,0,0,0,0,0, 0,0,0,0,0,0,0,0,0,0, 0,0,0,0,0,0,0,0,0,0, 0,0,0,0,0],
 [0,0,0,0,0,0,0,0,0,0, 0,0,0,0,0,0,0,0,0,0, 0,0,0,0,0,0,0,0,0.3,4.7, 0.5,0,0,0,0,0,0,0,0,0, 0,0,0,0,0,0,0,0,0,0, 0,0,0,0,0,0,0,0,0,0, 0,0,0,0,0],
 [0,0,0,0,0,0,0,0,0,0, 0,0,0,0,0,0,0,0,0,0, 0,0,0,0,0,0,0,0,0,0, 0,0,0,0,0,0,0,0,0,0, 0,0,0,0,0,0,0,0,0,0, 0,0,0,0,0,0,0,0,0,0, 0,0,0,0,0],
 [0,0,0,0,0,0,0,0,0,0, 0,0,0,0,0,0,0,0,0,0, 0,0,0,0,0,0,0,0,0,0, 0,0,0,0,0,0,0,0,0,0, 0,0,0,0,0,0,0,0,0,0, 0,0,0,0,0,0,0,0,0.5,4.3, 4.1,0.2,0,0,0],
 [0,0,0,0,0,0,0,0,0,0, 0,0,0,0,0,0,0,0,0,0, 0,0,0,0,0,0,0,0,0,0, 0,0,0,0,0,0,0,0,0,0, 0,0,0,0,0,0,0,0,0,0, 0,0,0,0,0,0,0,0,0,0, 0,0,0,0,0],
 [0,0,0,0,0,0,0,0,0,0, 0,0,0,0,0,0,0,0,0,0, 0,0,0,0,0,0,0,0,0,0, 0,0,0,0,0,0,0,0,0,0.4, 2.2,2.4,0.5,0,0.5,3.6,0.3,0,0,0, 0,0,0,0,0,0,0,0,0,0, 0,0,0,0,0],
 [0,0,0,0,0,0,0,0,0,0, 0,0,0,0,0,0,0,0,0,0, 0,0,0,0,0,0,0,0,0,0, 0,0,0,0,0,0,0,0,0,0, 0,0,0,0,0,0,0,0,0,0, 0,0,0,0,0,0,0,0,0,0, 0,0,0,0,0],
 [0,0,0,0,0,0,0,0,0,0, 0,0,0,0,0,0,0,0,0,0, 0,0,0,0,0,0,0,0,0,0, 0,0,0,0,0,0,0,0,0,0, 0.9,2.4,0.4,0,0,0,0,0,0,0, 0,0,0,0,0,0,0,0,0,0, 0,0,0,0,0],
 [0,0,0,0,0,0,0,0,0,0, 0,0,0,0,0,0,0,0,0,0, 0,0,0,0,0.6,0.6,0.6,0.6,0,0, 0,0,0,0,0,0,0,0,0,0, 0,0.5,0,0,0,0,0,0,0,0, 0,0,0,0,0,0,0,0,0,0, 0,0,0,0,0],
 [0,0,0,0,0,0,0,0,0,0, 0,0,0,0,0,0,0,0,0,0, 0,0,0,0,0,0,0,0,0,0, 0,0,0,0,0,0,0,0,0,0, 0,0,0,0,0,0,0,0,0,0, 0,0,0,0,0,0,0,0,0,0, 0,0,0,0,0],
 [0,0,0,0,0,0,0,0,0,0, 0,0,0,0,0,0,0,0,0,0, 0,0,0,0,0,0,0,0,0,0, 0,0,0,0,0,0,0.6,8.2,0.8,0, 0.9,3.4,0.4,0,0,0,0,0,0,0, 0,0,0,0,0,0,0,0,0,0, 0,0,0,0,0],
 [0,0,0,0,0,0,0,0,0,0, 0,0,0,0,0,0,0,0,0,0, 0,0,0,0,0,0,0,0,0,0, 0,0,0,0,0,0,0,0,0,0, 0,0,0,0,0,0,0,0,0,0, 0,0,0,0,0,0,0,0,0,0, 0,0,0,0,0],
 [0,0,0,0,0,0,0,0,0,0, 0,0,0,0,0,0,0,0,0,0, 0,0,0,0,0,0,0,0,0,0, 0,0,0,0,0,0,0,0,0,0, 0,0,0,0,0,0,0,0,0,0, 0,0,0,0,0,0,0,0,0,0, 0,0,0,0,0],
 [0,0,0,0,0,0,0,0,0,0, 0,0,0,0,0,0,0,0,0,0, 0,0,0,0,0,0,0,0,0,0, 0,0,0,0,0,0,0,0,0,0, 0,0,0,0,0,0,0,0,0,0, 0,0,1.5,2.3,0.3,0,0,0,0,0, 0,0,0,0,0],
 [0,0,0,0,0,0,0,0,0,0, 0,0,0,0,0,0,0,0,0,0, 0,0,0,0,0,0,0,0,0,0, 0,0,0,0,0,0,0,0,0,0, 0,0,0,0,0,0,0,0,0,0, 0,0,1.2,1.3,0.2,0,0,0,0,0, 0,0,0,0,0],
 [0,0,0,0,0,0,0,0,0,0, 0,0,0,0,0,0,0,0,0,0, 0,0,0,0,0,0,0,0,0,0, 0,0,0,0,0,0,0,0,0,0, 0,0,0,0,0,0,0,0,0,0, 0,0,0,0,0,0,0.5,0,0,0, 0,0,0,0,0],
 [0,0,0,0,0,0,0,0,0,0, 0,0,0,0,0,0,0,0,0,0, 0,0,0,0,0,0,0,0,0,0, 0,0,0,0,0,0,0,0,0,0, 0,0,0,0,0,0,0,0,0,0, 0,0,0,0,0,0,0,0,0,0, 0,0,0,0,0],
 [0,0,0,0,0,0,0,0,0,0, 0,0,0,0,0,0,0,0,0,0, 0,0,0,0,0,0,0,0,0,0, 0,0.2,0.9,2.9,0.6,0,0,0,0,0, 0,0,0,0,0,0,0,0,0,0, 0,0,0,0,0,0,0,0,0,0, 0,0,0,0,0],
 [0,0,0,0,0,0,0,0,0,0, 0,0,0,0,0,0,0,0,0,0, 0,0,0,0,0,0,0,0,0,0, 0,0,0,0,0,0,0,0,1.3,0.6, 0,0,0,0,0,0,0,0,0,0, 0,0,0,0,0,0,0,0,0,0, 0,0.6,2.7,2.6,0],
 [0,0,0,0,0,0,0,0,0,0, 0,0,0,0,0,0,0,0,0,0, 0,0,0,0,0,0,0,0,0,0, 0,0,0,0,2.3,0.5,0,0,0,0.8, 1.1,0,0,0,0,0,0,0,0,0, 0,0,0,0,0,0,0,0,0,0, 0,0,0,0,0],
 [0,0,0,0,0,0,0,0,0,0, 0,0,0,0,0,0,0,0,0,0, 0,0,0,0,0,0,0,0,0,0, 0,0,0,0,0,0,0,0,0,0, 0,0,0,0,0,0,0,0,0,0.2, 2.3,0.3,0,0,0,0,0,0,0,0, 0,0,0,0,0],
 [0,0,0,0,0,0,0,0,0,0, 0,0,0,0,0,0,0,0,0,0, 0,0,0,0,0,0,0,0,0,0, 0,0,0,0,0,0,0,0,0,0, 0,0,0,0,0,0,0,0,0,0, 0,0,0,0,0,0,0,0,0,0, 0,0,0,0,0],
 [0,0,0,0,0,0,0,0,0,0, 0,0,0,0,0,0,0,0,0,0, 0,0,0,0,0,0,0,0,0,0, 0,0,0,0,0,0,0,0,0,0, 0,0,0,0,0,0,0,0,0,0, 0,0,0,0,0,0,0,0,0,0, 0,0,0,0,0],
 [0,0,0,0,0,0,0,0,0,0, 0,0,0,0,0,0,0,0,0,0, 0,0,0,0,0,0,0,0,0,0, 0,0,0,0,0,0,0,0,0,0, 0,0,0,0,0,0,0,0,0,0, 0,0,0,0,0,0,0,0,0,0, 0,0,0,0,0]
];

var svg = d3.select("#chart");
var font = "DejaVu Sans Mono";

var x = d3.scaleLinear().domain([0, 64]).range([50, 690]);
var y = d3.scaleLinear().domain([-45, 30]).range([546, 21]);
var yRain = d3.scaleLinear().domain([0, 75]).range([546, 21]);

svg.append("rect").attr("width", 740).attr("height", 700).attr("fill", "#fff");

// grid
svg.append("g").selectAll("line")
    .data(leftTicks)
    .enter().append("line")
      .attr("x1", 50).attr("x2", 690)
      .attr("y1", function(d) { return y(d); })
      .attr("y2", function(d) { return y(d); })
      .attr("stroke", function(d) { return d === 0 ? "#a8a8a8" : "#c4c4c4"; })
      .attr("stroke-width", function(d) { return d === 0 ? 2.5 : (d % 10 === 0 ? 1.6 : 1.2); });

svg.append("g").selectAll("line")
    .data(dayIndex)
    .enter().append("line")
      .attr("x1", function(d) { return x(d); })
      .attr("x2", function(d) { return x(d); })
      .attr("y1", 0).attr("y2", 600)
      .attr("stroke", "#c4c4c4")
      .attr("stroke-width", 1.2);

// series
function drawSeries(values, scale, color, width, start, dots) {
  var pts = values.map(function(v, i) { return [i, v]; })
      .filter(function(p) { return p[0] >= start; });
  var line = d3.line()
      .x(function(p) { return x(p[0]); })
      .y(function(p) { return scale(p[1]); });
  var g = svg.append("g");
  g.append("path")
      .datum(pts)
      .attr("fill", "none")
      .attr("stroke", color)
      .attr("stroke-width", width)
      .attr("stroke-linejoin", "round")
      .attr("d", line);
  if (dots) {
    g.selectAll("rect")
      .data(pts)
      .enter().append("rect")
        .attr("x", function(p) { return x(p[0]) - 1; })
        .attr("y", function(p) { return scale(p[1]) - 1; })
        .attr("width", 2.2).attr("height", 2.2)
        .attr("fill", color);
  }
}

pert850.forEach(function(s, k) { drawSeries(s, y, memberColors[k], 1, 0, true); });
pert500.forEach(function(s, k) { drawSeries(s, y, memberColors[k], 1, 0, true); });
pertRain.forEach(function(s, k) { drawSeries(s, yRain, memberColors[k], 1, 1, true); });

drawSeries(gfs850, y, "#000", 3.2, 0, false);
drawSeries(gfs500, y, "#000", 3.2, 0, false);
drawSeries(gfsRain, yRain, "#000", 3.2, 1, false);
drawSeries(ctrl850, y, "#0018ff", 3.2, 0, false);
drawSeries(ctrl500, y, "#0018ff", 3.2, 0, false);
drawSeries(ctrlRain, yRain, "#0018ff", 3.2, 1, false);
drawSeries(mean850, y, "#ff0000", 4.5, 0, false);
drawSeries(mean500, y, "#ff0000", 4.5, 0, false);
drawSeries(meanRain, yRain, "#ff0000", 4.5, 1, false);

// frame
svg.append("path")
    .attr("d", "M50,0V600H690V0")
    .attr("fill", "none")
    .attr("stroke", "#000")
    .attr("stroke-width", 1.5);

// axes
var gLeft = svg.append("g")
    .attr("transform", "translate(20,0)")
    .call(d3.axisLeft(y).tickValues(leftTicks).tickSize(0).tickPadding(0)
      .tickFormat(function(d) { return String(d); }));
gLeft.select(".domain").remove();
gLeft.attr("font-family", font).attr("font-size", 10);
gLeft.selectAll("text").attr("x", 0).attr("text-anchor", "start").attr("fill", "#000");

var gRight = svg.append("g")
    .attr("transform", "translate(710,0)")
    .call(d3.axisRight(yRain).tickValues(rightTicks).tickSize(0).tickPadding(0));
gRight.select(".domain").remove();
gRight.attr("font-family", font).attr("font-size", 10);
gRight.selectAll("text").attr("x", 0).attr("text-anchor", "start").attr("fill", "#000");

var gBottom = svg.append("g")
    .attr("transform", "translate(0,600)")
    .call(d3.axisBottom(x).tickValues(dayIndex).tickSize(0)
      .tickFormat(function(d, i) { return dateLabels[i]; }));
gBottom.select(".domain").remove();
gBottom.attr("font-family", font).attr("font-size", 10);
gBottom.selectAll("text")
    .attr("transform", "rotate(-90)")
    .attr("text-anchor", "end")
    .attr("x", -2).attr("y", 10).attr("dy", 0)
    .attr("fill", "#000");

// labels
function label(txt, xp, yp, opts) {
  opts = opts || {};
  var t = svg.append("text")
      .attr("x", xp).attr("y", yp)
      .attr("font-family", font)
      .attr("font-size", opts.size || 10)
      .attr("font-weight", opts.bold ? "bold" : "normal")
      .attr("fill", opts.fill || "#000")
      .attr("text-anchor", opts.anchor || "start")
      .text(txt);
  if (opts.len) t.attr("textLength", opts.len).attr("lengthAdjust", "spacingAndGlyphs");
  return t;
}

label("Temp. 850hPa", 60, 73);
label("Temp. 500hPa", 60, 281);
label("Précipitations", 60, 541);
label("(°c)", 20, 611);
label("Alt. 162m", 10, 627);
label("(mm)", 710, 611);

// legend
svg.append("line").attr("x1", 35).attr("x2", 66).attr("y1", 637.5).attr("y2", 637.5)
    .attr("stroke", "#ff0000").attr("stroke-width", 4);
label("Moyenne des scénarios", 75, 641);
svg.append("line").attr("x1", 225).attr("x2", 256).attr("y1", 637.5).attr("y2", 637.5)
    .attr("stroke", "#0018ff").attr("stroke-width", 4);
label("Run de contrôle", 264, 641);
svg.append("line").attr("x1", 225).attr("x2", 256).attr("y1", 647.5).attr("y2", 647.5)
    .attr("stroke", "#000").attr("stroke-width", 4);
label("Run GFS", 264, 651);
label("30 Perts.", 340, 656);
label("\u2744", 60, 662, { size: 13, fill: "#4aa8f0", anchor: "middle" });
label("Risque neige", 75, 663);

var pal = svg.append("g").selectAll("g")
    .data(memberNames)
    .enter().append("g")
      .attr("transform", function(d, i) { return "translate(" + (400 + i * 11) + ",0)"; });
pal.append("rect")
    .attr("y", 649).attr("width", 10).attr("height", 7)
    .attr("fill", function(d, i) { return memberColors[i]; });
pal.append("text")
    .attr("x", 5).attr("y", 647)
    .attr("text-anchor", "middle")
    .attr("font-family", font).attr("font-size", 7).attr("font-weight", "bold")
    .text(function(d) { return d; });

// title box
svg.append("rect")
    .attr("x", 20.5).attr("y", 667.5).attr("width", 419).attr("height", 31)
    .attr("fill", "none").attr("stroke", "#000").attr("stroke-width", 1.5);
label("Diagramme des ensembles GEFS sur 384h : 40.6N 22.9E", 30, 681, { bold: true, size: 11.5, len: 358 });
label("Températures 850hPa et 500hPa (°C) , précipitations (mm)", 30, 696);
label("Ensemble GEFS du 31/07/2026 - 12Z", 450, 677, { size: 11, len: 160 });
label("Copyright 2026 Meteociel.fr", 450, 693, { bold: true, size: 11.5, len: 188 });
</script>
</body>
</html>
